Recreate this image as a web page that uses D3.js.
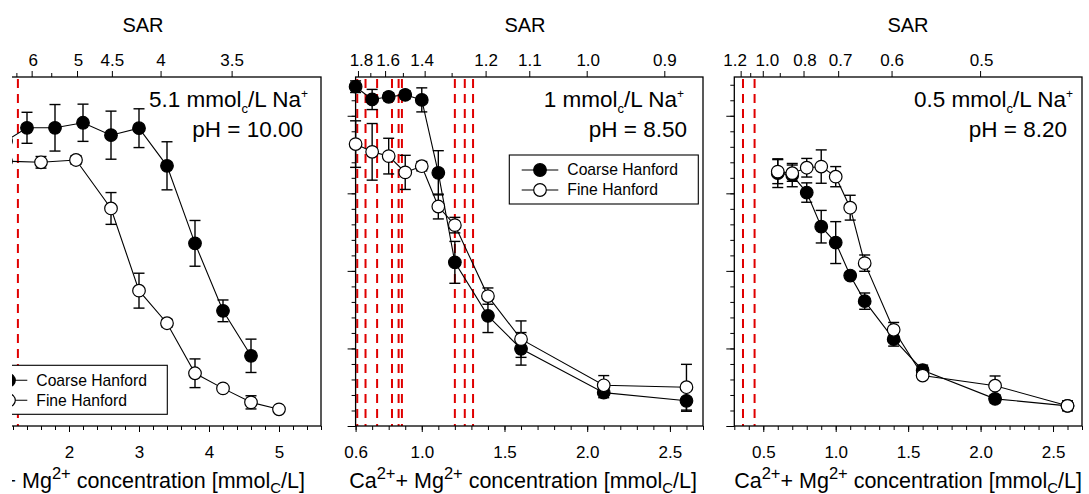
<!DOCTYPE html>
<html>
<head>
<meta charset="utf-8">
<script src="https://cdn.jsdelivr.net/npm/d3@7"></script>
<style>
  body { margin: 0; background: #fff; }
  svg { font-family: "Liberation Sans", Arial, Helvetica, sans-serif; }
</style>
</head>
<body>
<div id="chart"></div>
<script>
// ---- data (y = relative value, no labels on the plot) ----
var p1CoarseConc = [1.1, 1.4, 1.8, 2.2, 2.6, 3.0, 3.4, 3.8, 4.2, 4.6];
var p1Coarse     = [0.735, 0.769, 0.769, 0.782, 0.750, 0.768, 0.671, 0.471, 0.297, 0.181];
var p1CoarseErr  = [0.028, 0.040, 0.060, 0.048, 0.062, 0.050, 0.062, 0.059, 0.028, 0.043];
var p1FineConc   = [1.1, 1.6, 2.1, 2.6, 3.0, 3.4, 3.8, 4.2, 4.6, 5.0];
var p1Fine       = [0.683, 0.680, 0.686, 0.561, 0.349, 0.265, 0.136, 0.097, 0.061, 0.043];
var p1FineErr    = [0.015, 0.015, 0.011, 0.041, 0.045, 0.010, 0.037, 0.005, 0.017, 0.005];

var p2Conc       = [0.6, 0.7, 0.8, 0.9, 1.0, 1.1, 1.2, 1.4, 1.6, 2.1, 2.6];
var p2Coarse     = [0.875, 0.842, 0.849, 0.854, 0.841, 0.653, 0.422, 0.284, 0.199, 0.086, 0.065];
var p2CoarseErr  = [0.015, 0.026, 0.010, 0.010, 0.031, 0.057, 0.054, 0.043, 0.042, 0.013, 0.027];
var p2Fine       = [0.727, 0.707, 0.696, 0.654, 0.670, 0.566, 0.518, 0.335, 0.224, 0.105, 0.100];
var p2FineErr    = [0.060, 0.073, 0.046, 0.044, 0.012, 0.032, 0.020, 0.021, 0.047, 0.025, 0.059];

var p3Conc       = [0.6, 0.7, 0.8, 0.9, 1.0, 1.1, 1.2, 1.4, 1.6, 2.1, 2.6];
var p3Coarse     = [0.652, 0.647, 0.602, 0.514, 0.473, 0.388, 0.322, 0.224, 0.144, 0.070, 0.052];
var p3CoarseErr  = [0.037, 0.030, 0.025, 0.042, 0.054, 0.008, 0.021, 0.018, 0.013, 0.010, 0.010];
var p3Fine       = [0.656, 0.652, 0.666, 0.669, 0.643, 0.563, 0.420, 0.248, 0.130, 0.104, 0.052];
var p3FineErr    = [0.031, 0.021, 0.024, 0.043, 0.026, 0.032, 0.021, 0.019, 0.008, 0.025, 0.013];

// red dashed reference lines (concentration)
var p1RedLines = [1.27];
var p2RedLines = [0.61, 0.66, 0.73, 0.82, 0.86, 0.88, 1.20, 1.26, 1.31];
var p3RedLines = [0.36, 0.44];

// tick labels
var p1XTicks = [1, 2, 3, 4, 5];
var p2XTicks = [0.6, 1.0, 1.5, 2.0, 2.5];
var p3XTicks = [0.5, 1.0, 1.5, 2.0, 2.5];
var p1SarTicks = [6.5, 6, 5.5, 5, 4.5, 4, 3.5];
var p1SarLabels = [6, 5, 4.5, 4, 3.5];
var p2SarTicks = [1.8, 1.7, 1.6, 1.5, 1.4, 1.3, 1.2, 1.1, 1.0, 0.9];
var p2SarLabels = [1.8, 1.6, 1.4, 1.2, 1.1, 1.0, 0.9];
var p3SarTicks = [1.2, 1.1, 1.0, 0.9, 0.8, 0.7, 0.6, 0.5];
var p3SarLabels = [1.2, 1.0, 0.8, 0.7, 0.6, 0.5];

var naConc = ["5.1", "1", "0.5"];
var phText = ["10.00", "8.50", "8.20"];
var seriesNames = ["Coarse Hanford", "Fine Hanford"];

// ---- layout ----
var width = 1089, height = 494;
var plotTop = 77, plotBottom = 426;

var svg = d3.select("#chart").append("svg")
    .attr("width", width)
    .attr("height", height);

var y = d3.scaleLinear().domain([0, 0.9]).range([plotBottom, plotTop]);

var panels = [
  { x0: -29, x1: 321, dom: [0.6, 5.6], minorStep: 0.2, xTicks: p1XTicks, fmt: d3.format("d"),
    na: 5.15, sarTicks: p1SarTicks, sarLabels: p1SarLabels, sarFmt: function(d) { return String(d); },
    sarNudge: [1, 1, 0, 0, 0],
    red: p1RedLines, coarseX: p1CoarseConc, coarse: p1Coarse, coarseErr: p1CoarseErr,
    fineX: p1FineConc, fine: p1Fine, fineErr: p1FineErr,
    legend: [-21.7, 365.3], annoEnd: [308, 303], labelEnd: 305, sarX: 143, clip: 12 },
  { x0: 355.6, x1: 703, dom: [0.6, 2.7], minorStep: 0.1, xTicks: p2XTicks, fmt: d3.format(".1f"),
    na: 1, sarTicks: p2SarTicks, sarLabels: p2SarLabels, sarFmt: d3.format(".1f"),
    sarNudge: [3, 2.5, -3, 0, 0, 1, 0],
    red: p2RedLines, coarseX: p2Conc, coarse: p2Coarse, coarseErr: p2CoarseErr,
    fineX: p2Conc, fine: p2Fine, fineErr: p2FineErr,
    legend: [509.3, 155], annoEnd: [684, 687], labelEnd: 697, sarX: 525 },
  { x0: 734.3, x1: 1082, dom: [0.3, 2.7], minorStep: 0.1, xTicks: p3XTicks, fmt: d3.format(".1f"),
    na: 0.5, sarTicks: p3SarTicks, sarLabels: p3SarLabels, sarFmt: d3.format(".1f"),
    sarNudge: [-6, 4, 1, 2, 0, 1],
    red: p3RedLines, coarseX: p3Conc, coarse: p3Coarse, coarseErr: p3CoarseErr,
    fineX: p3Conc, fine: p3Fine, fineErr: p3FineErr,
    legend: null, annoEnd: [1073, 1067], labelEnd: 1082, sarX: 908 }
];

svg.append("defs").append("clipPath").attr("id", "clip1")
  .append("rect").attr("x", 12).attr("y", 0).attr("width", 335).attr("height", height);

panels.forEach(function(p, i) {
  var g = svg.append("g");
  if (p.clip) g.attr("clip-path", "url(#clip1)");

  var x = d3.scaleLinear().domain(p.dom).range([p.x0, p.x1]);

  // red dashed lines
  g.selectAll(".red").data(p.red).enter().append("line")
      .attr("x1", function(d) { return x(d); })
      .attr("x2", function(d) { return x(d); })
      .attr("y1", plotTop + 2).attr("y2", plotBottom)
      .attr("stroke", "#e00000")
      .attr("stroke-width", 2)
      .attr("stroke-dasharray", "9,6");

  // bottom axis
  var minor = d3.range(p.dom[0], p.dom[1] + 1e-9, p.minorStep);
  g.append("g").attr("transform", "translate(0," + plotBottom + ")")
      .call(d3.axisBottom(x).tickValues(minor).tickFormat("").tickSizeInner(4).tickSizeOuter(0))
      .call(function(a) { a.select(".domain").remove(); });
  g.append("g").attr("transform", "translate(0," + plotBottom + ")")
      .call(d3.axisBottom(x).tickValues(p.xTicks).tickFormat(p.fmt).tickSizeInner(6).tickSizeOuter(0).tickPadding(14))
      .call(function(a) {
        a.select(".domain").remove();
        a.selectAll("text").attr("font-size", 17).attr("font-family", null).attr("fill", "#000");
      });

  // left axis
  var yMinor = d3.range(0, 0.9, 0.04);
  g.append("g").attr("transform", "translate(" + p.x0 + ",0)")
      .call(d3.axisLeft(y).tickValues(yMinor).tickFormat("").tickSizeInner(4).tickSizeOuter(0))
      .call(function(a) { a.select(".domain").remove(); });
  g.append("g").attr("transform", "translate(" + p.x0 + ",0)")
      .call(d3.axisLeft(y).tickValues([0, 0.2, 0.4, 0.6, 0.8]).tickFormat("").tickSizeInner(8).tickSizeOuter(0))
      .call(function(a) { a.select(".domain").remove(); });

  // top SAR axis
  var sarPos = function(s) { return x(2 * Math.pow(p.na / s, 2)); };
  g.selectAll(".sart").data(p.sarTicks).enter().append("line")
      .attr("x1", sarPos).attr("x2", sarPos)
      .attr("y1", plotTop).attr("y2", function(d) { return p.sarLabels.indexOf(d) >= 0 ? plotTop - 6 : plotTop - 4; })
      .attr("stroke", "#000");
  g.selectAll(".sarl").data(p.sarLabels).enter().append("text")
      .attr("x", function(d, k) { return sarPos(d) + p.sarNudge[k]; }).attr("y", 66)
      .attr("text-anchor", "middle")
      .attr("font-size", 17)
      .text(p.sarFmt);
  g.append("text").attr("x", p.sarX).attr("y", 31.5)
      .attr("text-anchor", "middle").attr("font-size", 20).text("SAR");

  // frame
  g.append("rect")
      .attr("x", p.x0).attr("y", plotTop)
      .attr("width", p.x1 - p.x0).attr("height", plotBottom - plotTop)
      .attr("fill", "none").attr("stroke", "#000").attr("stroke-width", 1.3);

  // series
  var series = [
    { xs: p.coarseX, ys: p.coarse, es: p.coarseErr, fill: "#000" },
    { xs: p.fineX, ys: p.fine, es: p.fineErr, fill: "#fff" }
  ];
  var line = d3.line().x(function(d) { return x(d[0]); }).y(function(d) { return y(d[1]); });

  series.forEach(function(s) {
    var pts = s.xs.map(function(c, k) { return [c, s.ys[k], s.es[k]]; });
    g.append("path").datum(pts).attr("d", line)
        .attr("fill", "none").attr("stroke", "#000").attr("stroke-width", 1.1);
    var eb = g.append("g").attr("stroke", "#000").attr("stroke-width", 1.4);
    eb.selectAll(".v").data(pts).enter().append("line")
        .attr("x1", function(d) { return x(d[0]); }).attr("x2", function(d) { return x(d[0]); })
        .attr("y1", function(d) { return y(d[1] - d[2]); }).attr("y2", function(d) { return y(d[1] + d[2]); });
    [-1, 1].forEach(function(sg) {
      eb.selectAll(".c" + sg).data(pts).enter().append("line")
          .attr("x1", function(d) { return x(d[0]) - 5.5; }).attr("x2", function(d) { return x(d[0]) + 5.5; })
          .attr("y1", function(d) { return y(d[1] + sg * d[2]); }).attr("y2", function(d) { return y(d[1] + sg * d[2]); });
    });
    g.selectAll(".m").data(pts).enter().append("circle")
        .attr("cx", function(d) { return x(d[0]); })
        .attr("cy", function(d) { return y(d[1]); })
        .attr("r", 6.3)
        .attr("fill", s.fill).attr("stroke", "#000").attr("stroke-width", 1.2);
  });

  // annotation
  var t1 = g.append("text").attr("x", p.annoEnd[0]).attr("y", 107)
      .attr("text-anchor", "end").attr("font-size", 22.5);
  t1.append("tspan").text(naConc[i] + " mmol");
  t1.append("tspan").attr("font-size", 13).attr("dy", 6).text("c");
  t1.append("tspan").attr("dy", -6).text("/L Na");
  t1.append("tspan").attr("font-size", 12).attr("dy", -9).text("+");
  g.append("text").attr("x", p.annoEnd[1]).attr("y", 137)
      .attr("text-anchor", "end").attr("font-size", 22.5)
      .text("pH = " + phText[i]);

  // x label
  var xl = g.append("text").attr("x", p.labelEnd).attr("y", 488)
      .attr("text-anchor", "end").attr("font-size", 21.5);
  xl.append("tspan").text("Ca");
  xl.append("tspan").attr("font-size", 16.5).attr("dy", -9).text("2+");
  xl.append("tspan").attr("dy", 9).text("+ Mg");
  xl.append("tspan").attr("font-size", 16.5).attr("dy", -9).text("2+");
  xl.append("tspan").attr("dy", 9).text(" concentration [mmol");
  xl.append("tspan").attr("font-size", 15).attr("dy", 5).text("C");
  xl.append("tspan").attr("dy", -5).text("/L]");

  // legend
  if (p.legend) {
    var lg = g.append("g").attr("transform", "translate(" + p.legend[0] + "," + p.legend[1] + ")");
    lg.append("rect").attr("width", 189).attr("height", 49)
        .attr("fill", "#fff").attr("stroke", "#000").attr("stroke-width", 1.1);
    seriesNames.forEach(function(name, k) {
      var ry = 15 + k * 20;
      lg.append("line").attr("x1", 12.4).attr("x2", 49).attr("y1", ry).attr("y2", ry)
          .attr("stroke", "#000").attr("stroke-width", 1.1);
      lg.append("circle").attr("cx", 30.7).attr("cy", ry).attr("r", 6.3)
          .attr("fill", k === 0 ? "#000" : "#fff").attr("stroke", "#000").attr("stroke-width", 1.2);
      lg.append("text").attr("x", 58).attr("y", ry).attr("dy", "0.35em")
          .attr("font-size", 15.7).text(name);
    });
  }
});
</script>
</body>
</html>
